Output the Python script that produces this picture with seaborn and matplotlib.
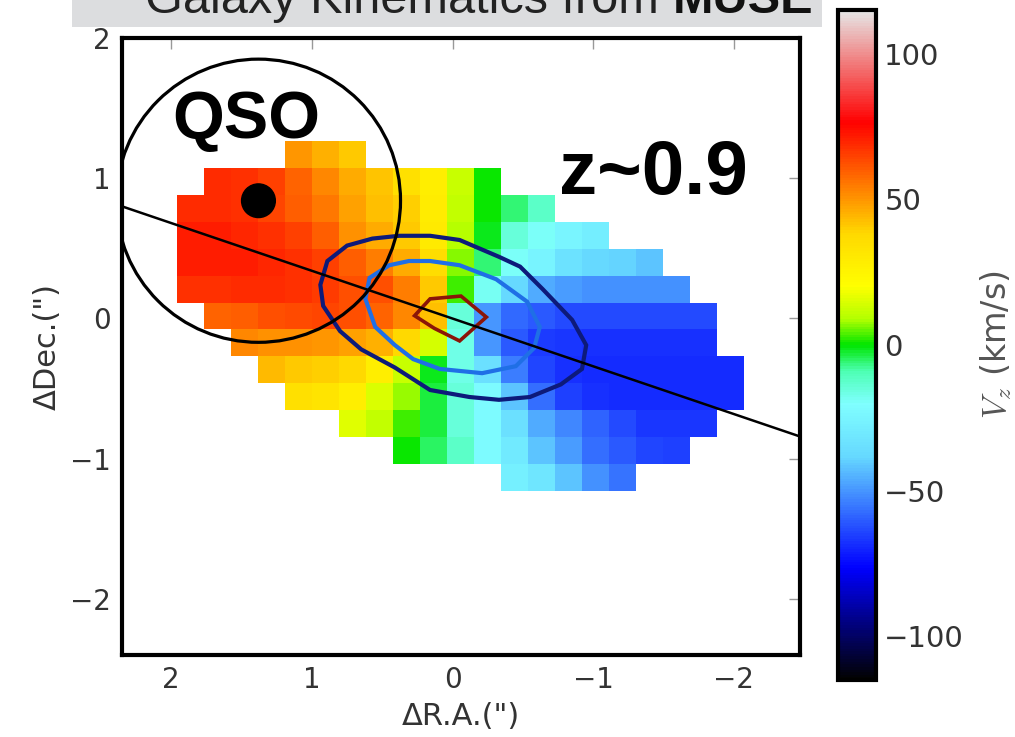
import numpy as np
import matplotlib
matplotlib.use('Agg')
import matplotlib.pyplot as plt
import matplotlib.patches as mpatches
from matplotlib.colors import LinearSegmentedColormap
import seaborn as sns

# line-of-sight velocity per spaxel (km/s); one list per row from the top,
# each row starts at column row_first_col[r]
row_first_col = [4, 1, 0, 0, 0, 0, 1, 2, 3, 4, 6, 8, 12]
vz_rows = [
    [50, 45, 41],
    [69, 68, 65, 59, 53, 46, 42, 35, 28, 12, 0],
    [69, 69, 68, 64, 60, 55, 48, 43, 40, 29, 11, 0, -6, -12],
    [71, 71, 70, 68, 65, 60, 51, 46, 41, 30, 9, -1, -15, -19, -25, -28],
    [71, 71, 71, 70, 68, 65, 60, 54, 46, 36, 7, -6, -19, -26, -34, -38, -39, -42],
    [68, 68, 69, 69, 68, 66, 62, 62, 54, 41, 3, -18, -38, -46, -49, -51, -51, -51, -51],
    [59, 60, 62, 63, 64, 62, 59, 53, 43, -15, -50, -58, -61, -63, -63, -63, -63, -63, -63],
    [53, 51, 51, 50, 48, 45, 38, 14, -17, -50, -61, -66, -67, -68, -68, -68, -68, -68],
    [44, 41, 40, 38, 28, 12, -1, -17, -35, -54, -64, -68, -69, -69, -69, -69, -69, -69],
    [35, 33, 28, 15, 8, -3, -15, -22, -42, -57, -65, -68, -69, -69, -69, -69, -69],
    [16, 11, 3, -3, -15, -22, -35, -46, -53, -59, -63, -67, -67, -67],
    [0, -5, -12, -22, -30, -42, -49, -57, -61, -64, -65],
    [-27, -32, -42, -51, -56],
]
n_cols = 21
spaxel = 0.192          # arcsec
grid_left = 1.962       # dRA of the left grid edge
grid_top = 1.266        # dDec of the top grid edge
vmin, vmax = -115, 115
cbar_ticks = [-100, -50, 0, 50, 100]

# flux contours (arcsec)
outer_x = [0.94, 0.89, 0.75, 0.57, 0.38, 0.16, -0.05, -0.33, -0.48, -0.64, -0.85, -0.95,
           -0.92, -0.77, -0.55, -0.33, -0.12, 0.16, 0.41, 0.65, 0.80, 0.92]
outer_y = [0.24, 0.41, 0.52, 0.57, 0.59, 0.59, 0.56, 0.44, 0.37, 0.21, -0.01, -0.19,
           -0.36, -0.47, -0.56, -0.58, -0.56, -0.51, -0.35, -0.22, -0.09, 0.09]
inner_x = [0.62, 0.59, 0.45, 0.31, 0.16, -0.05, -0.31, -0.53, -0.62, -0.58, -0.45,
           -0.21, 0.09, 0.28, 0.41, 0.55]
inner_y = [0.14, 0.29, 0.38, 0.41, 0.41, 0.38, 0.28, 0.12, -0.06, -0.21, -0.34,
           -0.39, -0.36, -0.29, -0.19, -0.06]
core_x = [0.27, 0.16, -0.06, -0.24, -0.05, 0.13]
core_y = [0.02, 0.14, 0.16, 0.01, -0.16, -0.07]

qso_pos = (1.38, 0.84)
qso_radius = 1.01
major_axis_x = [2.6, -2.7]
major_axis_y = [0.885, -0.92]

# sauron colormap
sx = np.array([1.0, 43.5, 86.0, 106.0, 118.5, 128.5, 138.5, 151.0, 171.0, 213.5, 256.0])
sr = [0.01, 0.0, 0.4, 0.5, 0.3, 0.0, 0.7, 1.0, 1.0, 1.0, 0.9]
sg = [0.01, 0.0, 0.85, 1.0, 1.0, 0.9, 1.0, 1.0, 0.85, 0.0, 0.9]
sb = [0.01, 1.0, 1.0, 1.0, 0.7, 0.0, 0.0, 0.0, 0.0, 0.0, 0.9]
sx = (sx - sx[0]) / (sx[-1] - sx[0])
cdict = {k: [(p, c, c) for p, c in zip(sx, v)] for k, v in (('red', sr), ('green', sg), ('blue', sb))}
sauron = LinearSegmentedColormap('sauron', cdict)

vz = np.full((len(vz_rows), n_cols), np.nan)
for r, (c0, vals) in enumerate(zip(row_first_col, vz_rows)):
    vz[r, c0:c0 + len(vals)] = vals
n_rows = vz.shape[0]

sns.set_style('white')
plt.rcParams['font.family'] = ['DejaVu Sans']
plt.rcParams['mathtext.fontset'] = 'cm'

fig = plt.figure(figsize=(10.15, 7.37), dpi=100)
ax = fig.add_axes([0.1202, 0.1113, 0.668, 0.837])
ax.set_xlim(2.35, -2.47)
ax.set_ylim(-2.4, 2.0)
cax = fig.add_axes([0.8256, 0.0773, 0.0374, 0.909])

# spaxel map in an inset that covers exactly the grid footprint
x0, x1 = ax.get_xlim()
y0, y1 = ax.get_ylim()
grid_bottom = grid_top - n_rows * spaxel
hax = ax.inset_axes([(x0 - grid_left) / (x0 - x1), (grid_bottom - y0) / (y1 - y0),
                     n_cols * spaxel / (x0 - x1), n_rows * spaxel / (y1 - y0)], zorder=0.5)
sns.heatmap(vz, ax=hax, cmap=sauron, vmin=vmin, vmax=vmax, cbar_ax=cax,
            xticklabels=False, yticklabels=False, cbar_kws={'ticks': cbar_ticks})
hax.patch.set_alpha(0)
hax.tick_params(left=False, bottom=False)

ax.add_patch(mpatches.Polygon(np.column_stack([outer_x, outer_y]), closed=True, fill=False,
                              edgecolor='#0d1a7a', lw=3, zorder=3))
ax.add_patch(mpatches.Polygon(np.column_stack([inner_x, inner_y]), closed=True, fill=False,
                              edgecolor='#1f6fe6', lw=3, zorder=3))
ax.add_patch(mpatches.Polygon(np.column_stack([core_x, core_y]), closed=True, fill=False,
                              edgecolor='#8b1508', lw=2.6, zorder=3))
ax.plot(major_axis_x, major_axis_y, color='black', lw=1.8, zorder=4)
ax.add_patch(mpatches.Circle(qso_pos, qso_radius, fill=False, edgecolor='black', lw=2.3, zorder=4))
ax.add_patch(mpatches.Circle(qso_pos, 0.12, color='black', zorder=5))

ax.text(1.47, 1.29, 'QSO', fontsize=48, fontweight='bold', family='Liberation Sans',
        color='black', ha='center', va='baseline', zorder=6)
ax.text(-1.43, 0.89, 'z~0.9', fontsize=55, fontweight='bold', family='Liberation Sans',
        color='black', ha='center', va='baseline', zorder=6)

ax.set_xticks([2, 1, 0, -1, -2])
ax.set_yticks([-2, -1, 0, 1, 2])
ax.tick_params(direction='in', length=8, width=1, color='#999999', top=True, right=True,
               labelsize=20, labelcolor='#333333', pad=8)
for s in ax.spines.values():
    s.set_linewidth(3)
    s.set_color('black')
ax.set_xlabel('ΔR.A.(")', fontsize=22, color='#333333', labelpad=6)
ax.set_ylabel('ΔDec.(")', fontsize=22, color='#333333', labelpad=6)

cbar = hax.collections[0].colorbar
cbar.outline.set_linewidth(3)
cbar.outline.set_edgecolor('black')
cax.tick_params(direction='in', length=8, width=1, color='#888888', labelsize=21,
                labelcolor='#333333', pad=6)
cbar.set_label(r'$V_z$ (km/s)', fontsize=24, color='#555555', labelpad=10)

# header strip, partly outside the canvas as in the original slide
fig.add_artist(mpatches.Rectangle((0.071, 0.963), 0.739, 0.05, transform=fig.transFigure,
                                  facecolor='#dcdddf', edgecolor='none', zorder=10))
t1 = fig.text(0.143, 0.982, 'Galaxy Kinematics from ', fontsize=35, family='Liberation Sans',
              color='#222222', va='baseline', zorder=11)
fig.canvas.draw()
bb = t1.get_window_extent().transformed(fig.transFigure.inverted())
fig.text(bb.x1, 0.982, 'MUSE', fontsize=35, family='Liberation Sans', fontweight='bold',
         color='#111111', va='baseline', zorder=11)

fig.savefig('out.png', dpi=100)
